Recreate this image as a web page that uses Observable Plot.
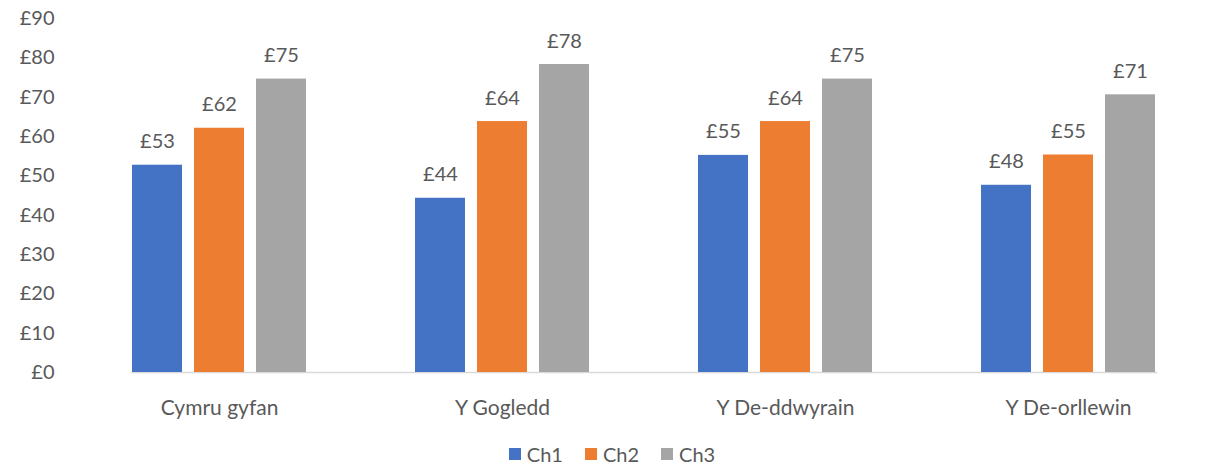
<!DOCTYPE html>
<html>
<head>
<meta charset="utf-8">
<script src="https://cdn.jsdelivr.net/npm/d3@7"></script>
<script src="https://cdn.jsdelivr.net/npm/@observablehq/plot@0.6"></script>
<style>
  html, body { margin: 0; padding: 0; background: #fff; }
  #legend { display: flex; justify-content: center; gap: 22px; font-family: Lato, "Open Sans", sans-serif; font-size: 20px; color: #595959; height: 31px; margin-top: 3px; align-items: center; padding-left: 8px; }
  #legend span.sw { display: inline-block; width: 12px; height: 12px; margin-right: 6px; }
  #legend div { display: flex; align-items: center; }
</style>
</head>
<body>
<div id="chart" style="height:435px"></div>
<div id="legend"></div>
<script>
const regions = ["Cymru gyfan", "Y Gogledd", "Y De-ddwyrain", "Y De-orllewin"];
const series = ["Ch1", "Ch2", "Ch3"];
const ch1 = [52.7, 44.3, 55.2, 47.6];
const ch2 = [62.1, 63.8, 63.8, 55.3];
const ch3 = [74.6, 78.3, 74.6, 70.6];
const colors = ["#4472C4", "#ED7D31", "#A5A5A5"];
const yTicks = [0, 10, 20, 30, 40, 50, 60, 70, 80, 90];

const seriesValues = [ch1, ch2, ch3];
const data = [];
regions.forEach((r, i) => series.forEach((s, j) => data.push({region: r, series: s, value: seriesValues[j][i]})));

const fmt = v => "£" + Math.round(v);
const font = "Lato, 'Open Sans', sans-serif";

const chart = Plot.plot({
  width: 1216,
  height: 435,
  marginTop: 18,
  marginBottom: 63,
  marginLeft: 77,
  marginRight: 6,
  style: {fontFamily: font, fontSize: "20px", color: "#595959", background: "#fff"},
  fx: {domain: regions, paddingInner: 0.378, paddingOuter: 0.19, label: null},
  x: {domain: series, paddingInner: 0.2, paddingOuter: 0, axis: null},
  y: {domain: [0, 90], label: null},
  color: {domain: series, range: colors},
  marks: [
    Plot.axisY({ticks: yTicks, tickFormat: d => "£" + d, tickSize: 0, tickPadding: 77, fill: "#595959", fontSize: 20}),
    Plot.axisFx({anchor: "bottom", tickSize: 0, tickPadding: 28, fill: "#595959", fontSize: 21, label: null}),
    Plot.frame({anchor: "bottom", facet: "super", stroke: "#d9d9d9", strokeWidth: 1.5}),
    Plot.barY(data, {fx: "region", x: "series", y: "value", fill: "series"}),
    Plot.text(data, {fx: "region", x: "series", y: "value", text: d => fmt(d.value), lineAnchor: "bottom", dy: -17, fill: "#595959", fontSize: 20})
  ]
});
document.getElementById("chart").appendChild(chart);

const legend = document.getElementById("legend");
series.forEach((s, j) => {
  const item = document.createElement("div");
  const sw = document.createElement("span");
  sw.className = "sw";
  sw.style.background = colors[j];
  item.appendChild(sw);
  item.appendChild(document.createTextNode(s));
  legend.appendChild(item);
});
</script>
</body>
</html>
